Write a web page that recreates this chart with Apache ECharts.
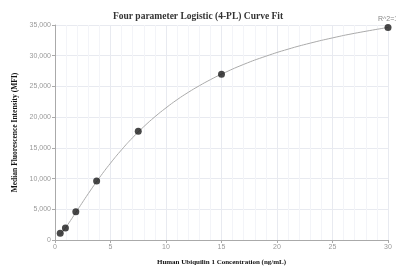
<!DOCTYPE html>
<html lang="en">
<head>
	<meta charset="UTF-8">
	<title>4-PL curve</title>
	<style>
		html, body{ margin: 0; padding: 0; background: #fff; }
		#main{ width: 396px; height: 271px; }
	</style>
	<script src="https://cdn.jsdelivr.net/npm/echarts@6/dist/echarts.min.js"></script>
</head>
<body>
	<div id="main"></div>
	<script>
		// standard points (concentration ng/mL, MFI)
		var conc = [0.469, 0.938, 1.875, 3.75, 7.5, 15, 30];
		var mfi = [1100, 1950, 4600, 9600, 17700, 27000, 34600];
		var r2Label = 'R^2=1';

		// fitted curve
		var curveX = [0.47, 1, 2, 3, 4, 5, 6, 7, 8, 9, 10, 11, 12, 13, 14, 15, 17, 19, 21, 23, 25, 27, 30];
		var curveY = [900, 2120, 4820, 7550, 10130, 12510, 14690, 16670, 18450, 20060, 21510, 22840, 24030, 25110, 26100, 27000, 28590, 29920, 31070, 32050, 32900, 33650, 34600];

		var points = conc.map(function(c, i){ return [c, mfi[i]]; });
		var curve = curveX.map(function(c, i){ return [c, curveY[i]]; });

		var myChart = echarts.init(document.getElementById('main'));

		var serif = '"Liberation Serif", "DejaVu Serif", serif';

		var option = {
			animation: false,
			title: {
				text: 'Four parameter Logistic (4-PL) Curve Fit',
				left: 'center',
				top: 7,
				textStyle: { fontFamily: serif, fontWeight: 'bold', fontSize: 9.5, color: '#333' }
			},
			grid: { left: 55, right: 8, top: 25, bottom: 31 },
			xAxis: {
				type: 'value',
				min: 0, max: 30, interval: 5,
				name: 'Human Ubiquilin 1 Concentration (ng/mL)',
				nameLocation: 'middle',
				nameGap: 19,
				nameTextStyle: { fontFamily: serif, fontWeight: 'bold', fontSize: 7, color: '#111' },
				axisLine: { lineStyle: { color: '#aaa' } },
				axisTick: { show: true, length: 3, lineStyle: { color: '#aaa' } },
				axisLabel: { fontSize: 7, color: '#999', margin: 4 },
				splitLine: { show: true, lineStyle: { color: '#e8eaf0' } },
				minorTick: { show: false, splitNumber: 5 },
				minorSplitLine: { show: true, lineStyle: { color: '#f3f4f8' } }
			},
			yAxis: {
				type: 'value',
				min: 0, max: 35000, interval: 5000,
				name: 'Median Fluorescence Intensity (MFI)',
				nameLocation: 'middle',
				nameGap: 28,
				nameTextStyle: { fontFamily: serif, fontWeight: 'bold', fontSize: 7.5, color: '#111' },
				axisLine: { show: true, lineStyle: { color: '#aaa' } },
				axisTick: { show: true, length: 3, lineStyle: { color: '#aaa' } },
				axisLabel: { fontSize: 7, color: '#999', margin: 4 },
				splitLine: { show: true, lineStyle: { color: '#e8eaf0' } }
			},
			series: [
				{
					name: 'fit',
					type: 'line',
					data: curve,
					smooth: true,
					showSymbol: false,
					lineStyle: { color: '#aaa', width: 1 },
					z: 1
				},
				{
					name: 'standards',
					type: 'scatter',
					data: points,
					symbolSize: 7,
					itemStyle: { color: '#1a1a1a' },
					label: {
						show: true,
						position: 'top',
						distance: 1,
						fontSize: 7,
						color: '#666',
						formatter: function(p){ return p.dataIndex === points.length - 1 ? r2Label : ''; }
					},
					z: 2
				}
			]
		};

		myChart.setOption(option);
	</script>
</body>
</html>
